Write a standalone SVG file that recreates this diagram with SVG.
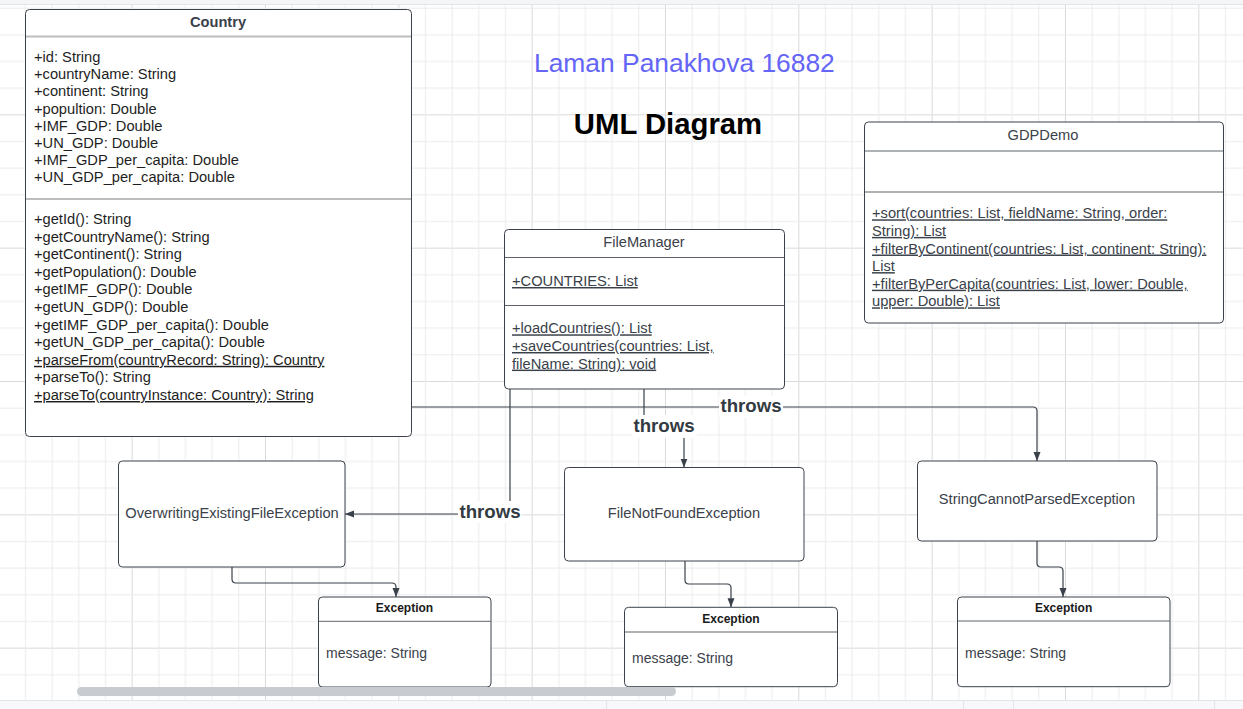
<svg xmlns="http://www.w3.org/2000/svg" width="1243" height="709" viewBox="0 0 1243 709">
<style>
text{font-family:"Liberation Sans",Arial,sans-serif;}
.box{fill:#ffffff;stroke:#3a414a;stroke-width:1;}
.div{stroke:#5f646b;stroke-width:1;}
.cdiv{stroke:#bdbdbd;stroke-width:2;}
.ttl{font-size:14.67px;font-weight:bold;fill:#3a414a;text-anchor:middle;}
.cls{font-size:14.67px;fill:#3a414a;text-anchor:middle;}
.attr{font-size:14.67px;fill:#1e1e1e;}
.mem{font-size:14.67px;fill:#3a414a;}
.u{text-decoration:underline;text-decoration-skip-ink:none;}
.exh{font-size:12px;font-weight:bold;fill:#1a1a1a;text-anchor:middle;}
.msg{font-size:14px;fill:#3a414a;}
.lbl{font-size:18.67px;font-weight:bold;fill:#333a42;text-anchor:middle;}
.lblbg{fill:#ffffff;}
.conn{fill:none;stroke:#3a414a;stroke-width:1.2;marker-end:url(#arr);}
</style>
<defs>
<pattern id="grid" patternUnits="userSpaceOnUse" x="-1.67" y="-19" width="133.33" height="133.33">
<rect x="0" y="0" width="1" height="133.33" fill="#dadada"/>
<rect x="0" y="0" width="133.33" height="1" fill="#dadada"/>
<rect x="26.67" y="0" width="1" height="133.33" fill="#ebebeb"/>
<rect x="53.33" y="0" width="1" height="133.33" fill="#ebebeb"/>
<rect x="80" y="0" width="1" height="133.33" fill="#ebebeb"/>
<rect x="106.67" y="0" width="1" height="133.33" fill="#ebebeb"/>
<rect x="0" y="26.67" width="133.33" height="1" fill="#ebebeb"/>
<rect x="0" y="53.33" width="133.33" height="1" fill="#ebebeb"/>
<rect x="0" y="80" width="133.33" height="1" fill="#ebebeb"/>
<rect x="0" y="106.67" width="133.33" height="1" fill="#ebebeb"/>
</pattern>
<marker id="arr" markerUnits="userSpaceOnUse" markerWidth="10" markerHeight="8" refX="9" refY="3.5" orient="auto">
<path d="M0,0 L9,3.5 L0,7 z" fill="#3a414a"/>
</marker>
</defs>

<rect x="0" y="0" width="1243" height="709" fill="#ffffff"/>
<rect x="0" y="5" width="1243" height="695" fill="url(#grid)"/>
<rect x="0" y="0" width="1243" height="4" fill="#f4f5f7"/>
<line x1="0" y1="4.5" x2="1243" y2="4.5" stroke="#e1e4e8"/>

<text x="534" y="72" font-size="26.4" fill="#6464f6">Laman Panakhova 16882</text>
<text x="668" y="134" font-size="29.3" font-weight="bold" fill="#000000" text-anchor="middle">UML Diagram</text>

<g id="connectors">
<path class="conn" d="M411,407 H1033 Q1037,407 1037,411 V461"/>
<path class="conn" d="M644,389 V426 H684 V467.5"/>
<path class="conn" d="M510,389 V514 H345"/>
<path class="conn" d="M232,567 V579 Q232,583 236,583 H392 Q396,583 396,587 V597"/>
<path class="conn" d="M685,561 V580 Q685,584 689,584 H727 Q731,584 731,588 V607.3"/>
<path class="conn" d="M1037,541 V563 Q1037,567 1041,567 H1059 Q1063,567 1063,571 V597"/>
<rect class="lblbg" x="719" y="396" width="64" height="21"/>
<text class="lbl" x="751" y="412">throws</text>
<rect class="lblbg" x="632" y="415" width="65" height="23"/>
<text class="lbl" x="664" y="432">throws</text>
<rect class="lblbg" x="458" y="501" width="64" height="22"/>
<text class="lbl" x="490" y="518">throws</text>
</g>

<g id="country">
<rect class="box" x="25.5" y="9.5" width="386" height="427" rx="4"/>
<line class="cdiv" x1="26" y1="36.5" x2="411" y2="36.5"/>
<line class="cdiv" x1="26" y1="199" x2="411" y2="199" stroke-width="1.5"/>
<text class="ttl" x="218" y="27">Country</text>
<text class="attr" x="34" y="62.3">+id: String</text>
<text class="attr" x="34" y="79.4">+countryName: String</text>
<text class="attr" x="34" y="96.4">+continent: String</text>
<text class="attr" x="34" y="113.5">+popultion: Double</text>
<text class="attr" x="34" y="130.5">+IMF_GDP: Double</text>
<text class="attr" x="34" y="147.6">+UN_GDP: Double</text>
<text class="attr" x="34" y="164.7">+IMF_GDP_per_capita: Double</text>
<text class="attr" x="34" y="181.7">+UN_GDP_per_capita: Double</text>
<text class="attr" x="34" y="224">+getId(): String</text>
<text class="attr" x="34" y="241.6">+getCountryName(): String</text>
<text class="attr" x="34" y="259.2">+getContinent(): String</text>
<text class="attr" x="34" y="276.8">+getPopulation(): Double</text>
<text class="attr" x="34" y="294.4">+getIMF_GDP(): Double</text>
<text class="attr" x="34" y="312">+getUN_GDP(): Double</text>
<text class="attr" x="34" y="329.6">+getIMF_GDP_per_capita(): Double</text>
<text class="attr" x="34" y="347.2">+getUN_GDP_per_capita(): Double</text>
<text class="attr u" x="34" y="364.8">+parseFrom(countryRecord: String): Country</text>
<text class="attr" x="34" y="382.4">+parseTo(): String</text>
<text class="attr u" x="34" y="400">+parseTo(countryInstance: Country): String</text>
</g>

<g id="filemanager">
<rect class="box" x="504.5" y="229.5" width="280" height="159.5" rx="4"/>
<line class="div" x1="505" y1="257.5" x2="784" y2="257.5"/>
<line class="div" x1="505" y1="305.5" x2="784" y2="305.5"/>
<text class="cls" x="644" y="247">FileManager</text>
<text class="mem u" x="512" y="286">+COUNTRIES: List</text>
<text class="mem u" x="512" y="333.3">+loadCountries(): List</text>
<text class="mem u" x="512" y="351">+saveCountries(countries: List,</text>
<text class="mem u" x="512" y="368.6">fileName: String): void</text>
</g>

<g id="gdpdemo">
<rect class="box" x="864.5" y="122" width="359" height="201" rx="4"/>
<line class="div" x1="865" y1="151" x2="1223" y2="151"/>
<line class="div" x1="865" y1="192" x2="1223" y2="192"/>
<text class="cls" x="1043" y="140">GDPDemo</text>
<text class="mem u" x="872" y="218.3">+sort(countries: List, fieldName: String, order:</text>
<text class="mem u" x="872" y="235.9">String): List</text>
<text class="mem u" x="872" y="253.5">+filterByContinent(countries: List, continent: String):</text>
<text class="mem u" x="872" y="271.1">List</text>
<text class="mem u" x="872" y="288.7">+filterByPerCapita(countries: List, lower: Double,</text>
<text class="mem u" x="872" y="306.3">upper: Double): List</text>
</g>

<g id="overwriting">
<rect class="box" x="118.5" y="461" width="226.5" height="106" rx="4"/>
<text class="cls" x="232" y="518">OverwritingExistingFileException</text>
</g>

<g id="filenotfound">
<rect class="box" x="564.5" y="467.5" width="239.5" height="93.5" rx="4"/>
<text class="cls" x="684" y="518">FileNotFoundException</text>
</g>

<g id="stringcannot">
<rect class="box" x="917.5" y="461" width="239.5" height="80" rx="4"/>
<text class="cls" x="1037" y="504">StringCannotParsedException</text>
</g>

<g id="exception1">
<rect class="box" x="318.5" y="597" width="172.5" height="90" rx="4"/>
<line class="div" x1="319" y1="621.3" x2="491" y2="621.3"/>
<text class="exh" x="404.5" y="612">Exception</text>
<text class="msg" x="326" y="658.3">message: String</text>
</g>

<g id="exception2">
<rect class="box" x="624.5" y="607.3" width="213" height="79.4" rx="4"/>
<line class="div" x1="625" y1="632" x2="837" y2="632"/>
<text class="exh" x="731" y="623">Exception</text>
<text class="msg" x="632" y="663.3">message: String</text>
</g>

<g id="exception3">
<rect class="box" x="957.5" y="597" width="212.5" height="89.7" rx="4"/>
<line class="div" x1="958" y1="621" x2="1170" y2="621"/>
<text class="exh" x="1063.6" y="612">Exception</text>
<text class="msg" x="965" y="658.3">message: String</text>
</g>

<rect x="77" y="687" width="599" height="9" rx="4.5" fill="#c8cbd0"/>
<rect x="0" y="700" width="1243" height="9" fill="#f7f8fa"/>
<line x1="0" y1="700.5" x2="1243" y2="700.5" stroke="#e2e4e8"/>
<line x1="606.5" y1="701" x2="606.5" y2="709" stroke="#e2e4e8"/>
<line x1="963.5" y1="701" x2="963.5" y2="709" stroke="#e2e4e8"/>
<line x1="1013.5" y1="701" x2="1013.5" y2="709" stroke="#e2e4e8"/>
<line x1="1214.5" y1="701" x2="1214.5" y2="709" stroke="#e2e4e8"/>
</svg>
